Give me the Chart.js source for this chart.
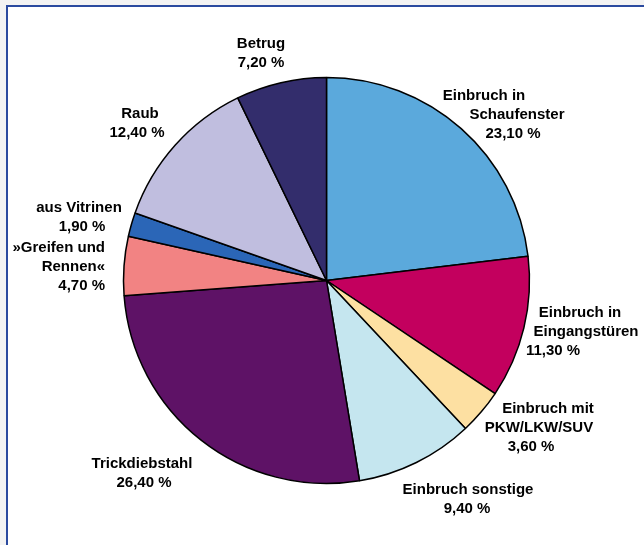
<!DOCTYPE html>
<html>
<head>
<meta charset="utf-8">
<script src="https://cdn.jsdelivr.net/npm/chart.js@4/dist/chart.umd.min.js"></script>
<style>
  html, body { margin: 0; padding: 0; background: #f3f3f3; }
  #wrap { position: relative; width: 644px; height: 545px; overflow: hidden; }
  #frame { position: absolute; left: 6px; top: 5px; width: 700px; height: 600px;
           background: #ffffff; border-top: 2px solid #2b4a9f; border-left: 2px solid #2b4a9f; }
  #c { position: absolute; left: 0; top: 0; }
</style>
</head>
<body>
<div id="wrap">
  <div id="frame"></div>
  <canvas id="c" width="644" height="545"></canvas>
</div>
<script>
// ---- data ----
const categories = [
  "Einbruch in\nSchaufenster",
  "Einbruch in\nEingangstüren",
  "Einbruch mit\nPKW/LKW/SUV",
  "Einbruch sonstige",
  "Trickdiebstahl",
  "»Greifen und\nRennen«",
  "aus Vitrinen",
  "Raub",
  "Betrug"
];
const values = [23.1, 11.3, 3.6, 9.4, 26.4, 4.7, 1.9, 12.4, 7.2];
const colors = ["#5ba9dc", "#c3005e", "#fde0a2", "#c5e6ef", "#5e1266", "#f28383", "#2b66b7", "#c0bedf", "#332d6c"];

// label layout (per category: x positions of each line, first line y, alignment)
const labelLayout = [
  { xs: [484, 517, 513], y: 96, align: "center" },
  { xs: [580, 586, 553], y: 313, align: "center" },
  { xs: [548, 539, 531], y: 409, align: "center" },
  { xs: [468, 467], y: 490, align: "center" },
  { xs: [142, 144], y: 464, align: "center" },
  { xs: [105, 105, 105], y: 248, align: "right" },
  { xs: [79, 82], y: 208, align: "center" },
  { xs: [140, 137], y: 114, align: "center" },
  { xs: [261, 261], y: 44, align: "center" }
];
const lineHeight = 19;

function fmt(v) { return v.toFixed(2).replace(".", ",") + " %"; }

const labelPlugin = {
  id: "labels",
  afterDraw(chart) {
    const ctx = chart.ctx;
    ctx.save();
    ctx.fillStyle = "#000";
    ctx.font = "bold 15px 'Liberation Sans', Arial, sans-serif";
    ctx.textBaseline = "middle";
    categories.forEach((cat, i) => {
      const lines = cat.split("\n").concat([fmt(values[i])]);
      const L = labelLayout[i];
      ctx.textAlign = L.align;
      lines.forEach((t, j) => {
        ctx.fillText(t, L.xs[j], L.y + j * lineHeight);
      });
    });
    ctx.restore();
  }
};

new Chart(document.getElementById("c"), {
  type: "pie",
  data: {
    labels: categories,
    datasets: [{
      data: values,
      backgroundColor: colors,
      borderColor: "#000",
      borderWidth: 1.5
    }]
  },
  options: {
    responsive: false,
    animation: false,
    radius: 203,
    layout: { padding: { left: 120, right: 111, top: 77, bottom: 61 } },
    plugins: { legend: { display: false }, tooltip: { enabled: false } }
  },
  plugins: [labelPlugin]
});
</script>
</body>
</html>
